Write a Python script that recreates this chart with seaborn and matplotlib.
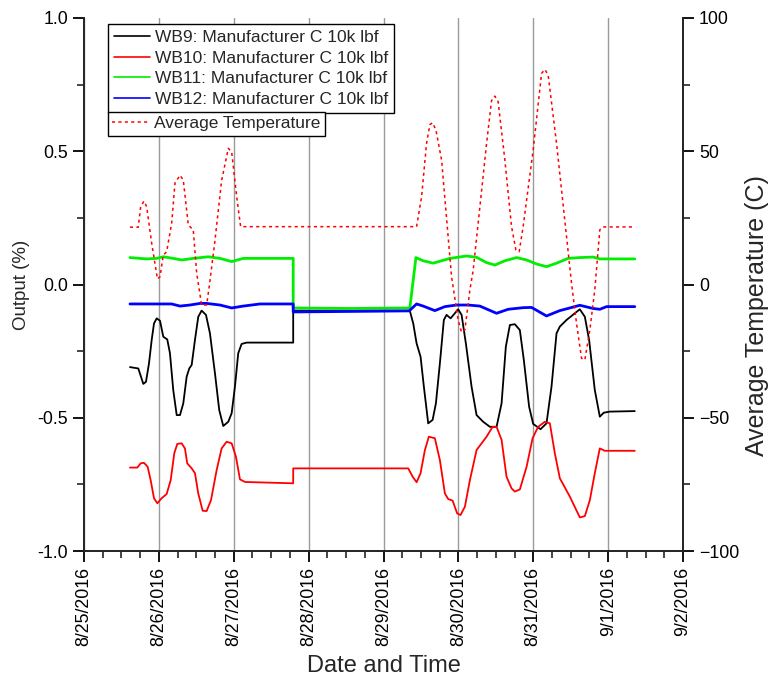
import numpy as np
import pandas as pd
import matplotlib
matplotlib.use("Agg")
import matplotlib.pyplot as plt
import matplotlib.dates as mdates
from matplotlib.ticker import MultipleLocator, FormatStrFormatter
from matplotlib.lines import Line2D
import seaborn as sns

# ---------------- data (days since 8/25/2016 00:00) ----------------
start = pd.Timestamp("2016-08-25")

wb9_days = [0.614, 0.725, 0.761, 0.792, 0.828, 0.868, 0.904, 0.935, 0.971, 1.015, 1.059,
            1.112, 1.148, 1.192, 1.238, 1.282, 1.326, 1.371, 1.406, 1.438, 1.482, 1.526,
            1.571, 1.629, 1.682, 1.749, 1.806, 1.860, 1.927, 1.972, 2.016, 2.060, 2.105,
            2.172, 2.794, 2.794, 3.952, 4.352, 4.397, 4.442, 4.495, 4.539, 4.597, 4.656,
            4.700, 4.753, 4.806, 4.842, 4.896, 4.953, 4.997, 5.043, 5.100, 5.176, 5.243,
            5.331, 5.421, 5.510, 5.577, 5.634, 5.688, 5.754, 5.821, 5.874, 5.945, 5.999,
            6.097, 6.177, 6.244, 6.311, 6.355, 6.445, 6.555, 6.622, 6.689, 6.746, 6.822,
            6.889, 6.942, 7.022, 7.356]
wb9_vals = [-0.310, -0.315, -0.346, -0.373, -0.365, -0.296, -0.208, -0.146, -0.127, -0.136, -0.196,
            -0.206, -0.258, -0.396, -0.490, -0.490, -0.446, -0.346, -0.315, -0.302, -0.208, -0.121,
            -0.098, -0.114, -0.183, -0.333, -0.471, -0.531, -0.515, -0.483, -0.383, -0.258, -0.223,
            -0.218, -0.218, -0.098, -0.098, -0.099, -0.146, -0.221, -0.271, -0.383, -0.521, -0.508,
            -0.446, -0.296, -0.133, -0.114, -0.127, -0.108, -0.093, -0.114, -0.221, -0.383, -0.490,
            -0.515, -0.534, -0.534, -0.446, -0.233, -0.152, -0.149, -0.171, -0.283, -0.459, -0.523,
            -0.543, -0.521, -0.383, -0.183, -0.158, -0.133, -0.108, -0.093, -0.121, -0.208, -0.396,
            -0.496, -0.481, -0.477, -0.475]

wb10_days = [0.614, 0.712, 0.757, 0.801, 0.850, 0.890, 0.935, 0.979, 1.037, 1.104, 1.158,
             1.206, 1.246, 1.304, 1.348, 1.379, 1.438, 1.482, 1.526, 1.585, 1.638, 1.696,
             1.772, 1.838, 1.905, 1.972, 2.029, 2.083, 2.150, 2.794, 2.794, 3.952, 4.330,
             4.389, 4.442, 4.495, 4.553, 4.606, 4.686, 4.753, 4.820, 4.864, 4.923, 4.984,
             5.029, 5.087, 5.154, 5.243, 5.310, 5.377, 5.457, 5.510, 5.577, 5.643, 5.710,
             5.754, 5.821, 5.911, 5.991, 6.065, 6.155, 6.222, 6.288, 6.355, 6.489, 6.622,
             6.689, 6.756, 6.822, 6.889, 6.956, 7.356]
wb10_vals = [-0.687, -0.687, -0.671, -0.669, -0.684, -0.734, -0.802, -0.821, -0.802, -0.786, -0.734,
             -0.633, -0.598, -0.596, -0.615, -0.671, -0.690, -0.708, -0.784, -0.849, -0.850, -0.809,
             -0.696, -0.615, -0.590, -0.596, -0.646, -0.731, -0.741, -0.746, -0.690, -0.690, -0.690,
             -0.721, -0.742, -0.708, -0.621, -0.571, -0.577, -0.659, -0.784, -0.805, -0.811, -0.859,
             -0.865, -0.834, -0.734, -0.621, -0.596, -0.571, -0.534, -0.534, -0.583, -0.721, -0.765,
             -0.777, -0.769, -0.684, -0.577, -0.534, -0.515, -0.521, -0.633, -0.727, -0.796, -0.874,
             -0.869, -0.809, -0.708, -0.615, -0.624, -0.624]

wb11_days = [0.614, 0.837, 0.971, 1.059, 1.192, 1.304, 1.459, 1.660, 1.816, 1.972, 2.127,
             2.794, 2.794, 3.551, 4.352, 4.433, 4.530, 4.664, 4.776, 4.887, 5.110, 5.243,
             5.377, 5.487, 5.621, 5.777, 5.911, 6.044, 6.177, 6.311, 6.466, 6.622, 6.800,
             6.889, 7.356]
wb11_vals = [0.101, 0.096, 0.098, 0.104, 0.098, 0.092, 0.098, 0.104, 0.098, 0.086, 0.098,
             0.098, -0.088, -0.090, -0.088, 0.101, 0.089, 0.080, 0.089, 0.098, 0.107, 0.102,
             0.082, 0.073, 0.089, 0.101, 0.092, 0.077, 0.067, 0.080, 0.098, 0.101, 0.103,
             0.096, 0.096]

wb12_days = [0.614, 1.059, 1.171, 1.282, 1.415, 1.549, 1.638, 1.816, 1.972, 2.127, 2.350,
             2.794, 2.794, 4.343, 4.442, 4.530, 4.686, 4.820, 4.976, 5.131, 5.287, 5.510,
             5.665, 5.865, 5.977, 6.177, 6.355, 6.622, 6.800, 6.889, 6.979, 7.356]
wb12_vals = [-0.073, -0.073, -0.073, -0.081, -0.077, -0.071, -0.071, -0.077, -0.088, -0.081, -0.073,
             -0.073, -0.103, -0.099, -0.073, -0.081, -0.098, -0.083, -0.077, -0.077, -0.081, -0.108,
             -0.093, -0.087, -0.086, -0.118, -0.098, -0.078, -0.090, -0.093, -0.083, -0.083]

temp_days = [0.614, 0.725, 0.757, 0.801, 0.837, 0.904, 0.981, 1.015, 1.059, 1.104, 1.171,
             1.215, 1.282, 1.326, 1.393, 1.459, 1.505, 1.571, 1.638, 1.676, 1.745, 1.838,
             1.927, 1.972, 2.039, 2.092, 4.442, 4.509, 4.575, 4.620, 4.655, 4.700, 4.776,
             4.909, 4.997, 5.043, 5.087, 5.154, 5.198, 5.377, 5.443, 5.487, 5.531, 5.621,
             5.710, 5.768, 5.812, 5.865, 5.999, 6.111, 6.155, 6.199, 6.311, 6.511, 6.578,
             6.645, 6.689, 6.756, 6.822, 6.889, 6.933, 7.334]
temp_vals = [21.5, 21.5, 29.2, 31.3, 29.2, 15.5, 2.1, 2.9, 11.0, 12.3, 23.0,
             38.0, 41.0, 39.2, 22.3, 20.5, 4.2, -7.7, -7.7, 0.0, 15.5, 39.0,
             51.1, 49.8, 33.0, 21.7, 21.7, 33.0, 53.0, 60.0, 60.7, 58.0, 46.7,
             2.9, -13.3, -18.0, -17.0, -2.0, 5.4, 53.0, 69.0, 70.7, 68.6, 46.7,
             21.7, 13.0, 12.3, 21.7, 50.5, 79.2, 80.7, 78.6, 53.0, 0.5, -14.6,
             -27.7, -28.3, -17.0, -2.0, 20.5, 21.6, 21.6]

series_labels = ["WB9: Manufacturer C 10k lbf", "WB10: Manufacturer C 10k lbf",
                 "WB11: Manufacturer C 10k lbf", "WB12: Manufacturer C 10k lbf"]
temp_label = "Average Temperature"
series_colors = ["#000000", "#ff0000", "#00ee00", "#0000ff"]


def frame(days, vals):
    return pd.DataFrame({"time": start + pd.to_timedelta(days, unit="D"), "value": vals})


# ---------------- style ----------------
sns.set_style("ticks")
plt.rcParams["font.family"] = ["Liberation Sans", "DejaVu Sans"]
plt.rcParams["axes.linewidth"] = 1.3

fig = plt.figure(figsize=(7.74, 6.87), dpi=100)
ax = fig.add_axes([84 / 774, 1 - 551 / 687, (683 - 84) / 774, (551 - 18) / 687])
ax2 = ax.twinx()

widths = [1.3, 1.3, 2.0, 2.0]
data = [(wb9_days, wb9_vals), (wb10_days, wb10_vals), (wb11_days, wb11_vals), (wb12_days, wb12_vals)]
for (d, v), c, lw in zip(data, series_colors, widths):
    sns.lineplot(data=frame(d, v), x="time", y="value", ax=ax, color=c, lw=lw,
                 estimator=None, sort=False, legend=False)

sns.lineplot(data=frame(temp_days, temp_vals), x="time", y="value", ax=ax2,
             color="#ff0000", lw=1.1, estimator=None, sort=False, legend=False,
             linestyle=(0, (2, 2.2)))

# ---------------- axes ----------------
ax.set_xlim(pd.Timestamp("2016-08-25"), pd.Timestamp("2016-09-02"))
ax.set_ylim(-1.0, 1.0)
ax2.set_ylim(-100, 100)

ax.xaxis.set_major_locator(mdates.DayLocator())
ax.xaxis.set_minor_locator(mdates.HourLocator(byhour=[6, 12, 18]))
ax.xaxis.set_major_formatter(mdates.DateFormatter("%-m/%-d/%Y"))
ax.yaxis.set_major_locator(MultipleLocator(0.5))
ax.yaxis.set_minor_locator(MultipleLocator(0.25))
ax.yaxis.set_major_formatter(FormatStrFormatter("%.1f"))
ax2.yaxis.set_major_locator(MultipleLocator(50))
ax2.yaxis.set_minor_locator(MultipleLocator(25))

for a in (ax, ax2):
    a.spines["top"].set_visible(False)
    a.tick_params(which="major", direction="out", length=8, width=1.3, labelsize=12.8, colors="black")
    a.tick_params(which="minor", direction="out", length=5, width=1.2)
ax.tick_params(axis="x", labelrotation=90)
ax2.spines["right"].set_visible(True)

ax.grid(axis="x", which="major", color="#9a9a9a", lw=1.0)
ax.grid(axis="y", visible=False)
ax2.grid(False)

ax.set_xlabel("Date and Time", fontsize=17)
ax.set_ylabel("Output (%)", fontsize=13.5)
ax2.set_ylabel("Average Temperature (C)", fontsize=18)
ax.xaxis.set_label_coords(0.5, -0.195)
ax.yaxis.set_label_coords(-0.09, 0.5)
ax2.yaxis.set_label_coords(1.103, 0.441)

# ---------------- legends ----------------
handles = [Line2D([], [], color=c, lw=1.2) for c in series_colors]
leg1 = fig.legend(handles, series_labels, loc="upper left",
                  bbox_to_anchor=(108 / 774, 1 - 24 / 687), bbox_transform=fig.transFigure,
                  fontsize=12.5, frameon=True, fancybox=False, edgecolor="black",
                  framealpha=1, borderaxespad=0, borderpad=0.32, labelspacing=0.33,
                  handlelength=2.1, handletextpad=0.3)
leg1.get_frame().set_linewidth(1.0)
h2 = [Line2D([], [], color="#ff0000", lw=1.1, linestyle=(0, (2, 2.2)))]
leg2 = fig.legend(h2, [temp_label], loc="upper left",
                  bbox_to_anchor=(108 / 774, 1 - 112 / 687), bbox_transform=fig.transFigure,
                  fontsize=12.5, frameon=True, fancybox=False, edgecolor="black",
                  framealpha=1, borderaxespad=0, borderpad=0.25, labelspacing=0.2,
                  handlelength=2.1, handletextpad=0.3)
leg2.get_frame().set_linewidth(1.0)

fig.savefig("out.png", dpi=100)
